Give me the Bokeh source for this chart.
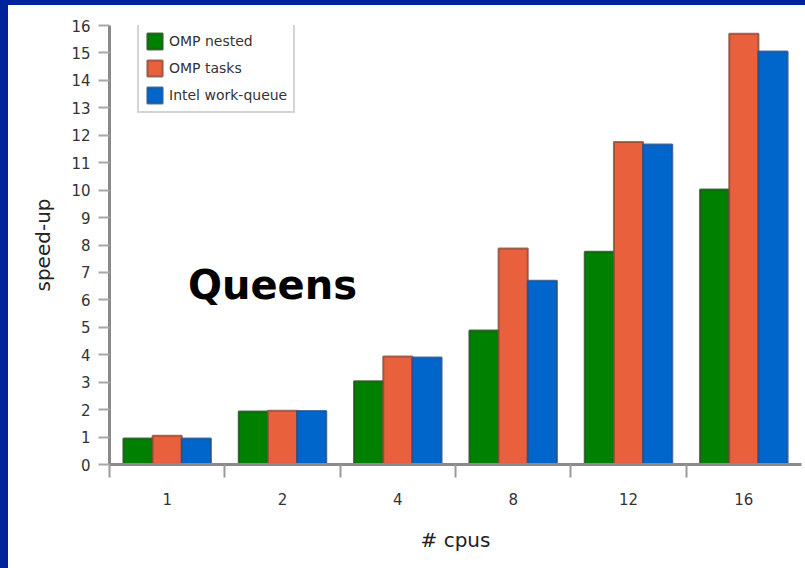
from bokeh.plotting import figure
from bokeh.models import (ColumnDataSource, Range1d, LinearAxis, FixedTicker,
                          Legend, LegendItem, Label, Spacer)
from bokeh.layouts import column, row
from bokeh.transform import dodge
from bokeh.embed import file_html
from bokeh.resources import INLINE

# ---- data ----
cpus = ["1", "2", "4", "8", "12", "16"]
omp_nested = [0.95, 1.93, 3.03, 4.88, 7.75, 10.02]
omp_tasks = [1.05, 1.96, 3.94, 7.87, 11.75, 15.70]
intel_wq = [0.95, 1.95, 3.90, 6.70, 11.66, 15.05]
series_names = ["OMP nested", "OMP tasks", "Intel work-queue"]
y_ticks = list(range(0, 17))

colors = ["#008000", "#e8603c", "#0066cc"]
edge_colors = ["#1f4f1f", "#8a4a38", "#24508a"]
FRAME_BLUE = "#00239c"

centers = [i + 0.5 for i in range(len(cpus))]
bounds = [i for i in range(len(cpus))]

src = ColumnDataSource(dict(x=centers, nested=omp_nested, tasks=omp_tasks, intel=intel_wq))

FONT = "DejaVu Sans"

p = figure(width=797, height=563, output_backend="svg", toolbar_location=None,
           x_range=Range1d(0, len(cpus)), y_range=Range1d(0, 16),
           x_axis_type=None, y_axis_type=None,
           min_border_left=101, min_border_right=4, min_border_top=20,
           min_border_bottom=104)
p.outline_line_color = None
p.xgrid.visible = False
p.ygrid.visible = False
p.background_fill_color = "white"
p.border_fill_color = "white"

bw = 0.253
renderers = []
for col, off, c, ec in zip(["nested", "tasks", "intel"], [-bw, 0, bw], colors, edge_colors):
    r = p.vbar(x=dodge("x", off), top=col, width=bw, bottom=0, source=src,
               fill_color=c, line_color=ec, line_width=2, line_alpha=0.8)
    renderers.append(r)

# x axis: labels at centers, tick marks at boundaries (minor ticks)
xax = LinearAxis(ticker=FixedTicker(ticks=centers, minor_ticks=bounds))
xax.major_label_overrides = {c: lab for c, lab in zip(centers, cpus)}
xax.major_tick_out = 0
xax.major_tick_in = 0
xax.minor_tick_out = 13
xax.minor_tick_in = 0
xax.minor_tick_line_color = "#9a9a9a"
xax.minor_tick_line_width = 2
xax.axis_line_color = "#8a8a8a"
xax.axis_line_width = 3
xax.major_label_standoff = 15
xax.major_label_text_font = FONT
xax.major_label_text_font_size = "15px"
xax.major_label_text_color = "#333333"
xax.axis_label = "# cpus"
xax.axis_label_text_font = FONT
xax.axis_label_text_font_size = "20px"
xax.axis_label_text_font_style = "normal"
xax.axis_label_text_color = "#222222"
xax.axis_label_standoff = 20
p.add_layout(xax, "below")

yax = LinearAxis(ticker=FixedTicker(ticks=y_ticks, minor_ticks=[]))
yax.major_tick_out = 11
yax.major_tick_in = 0
yax.major_tick_line_color = "#a8a8a8"
yax.major_tick_line_width = 2
yax.axis_line_color = "#8a8a8a"
yax.axis_line_width = 3
yax.major_label_standoff = 8
yax.major_label_text_font = FONT
yax.major_label_text_font_size = "15px"
yax.major_label_text_color = "#333333"
yax.axis_label = "speed-up"
yax.axis_label_text_font = FONT
yax.axis_label_text_font_size = "20px"
yax.axis_label_text_font_style = "normal"
yax.axis_label_text_color = "#222222"
yax.axis_label_standoff = 13
p.add_layout(yax, "left")

legend = Legend(items=[LegendItem(label=n, renderers=[r]) for n, r in zip(series_names, renderers)],
                location=(28, 351))
legend.padding = 6
legend.spacing = 7
legend.glyph_height = 20
legend.glyph_width = 19
legend.label_height = 20
legend.label_standoff = 5
legend.margin = 0
legend.label_text_font = FONT
legend.label_text_font_size = "14px"
legend.label_text_color = "#333333"
legend.border_line_color = "#aaaaaa"
legend.border_line_width = 2
legend.background_fill_alpha = 1.0
p.add_layout(legend, "center")

title = Label(x=0.68, y=6.55, text="Queens", text_font=FONT, text_font_size="40px",
              text_font_style="bold", text_color="black", text_baseline="alphabetic")
p.add_layout(title)

top_bar = Spacer(width=805, height=5, styles={"background-color": FRAME_BLUE})
left_bar = Spacer(width=8, height=563, styles={"background-color": FRAME_BLUE})
page = column(top_bar, row(left_bar, p, spacing=0), spacing=0)

open("out.html", "w").write(file_html(page, INLINE))
